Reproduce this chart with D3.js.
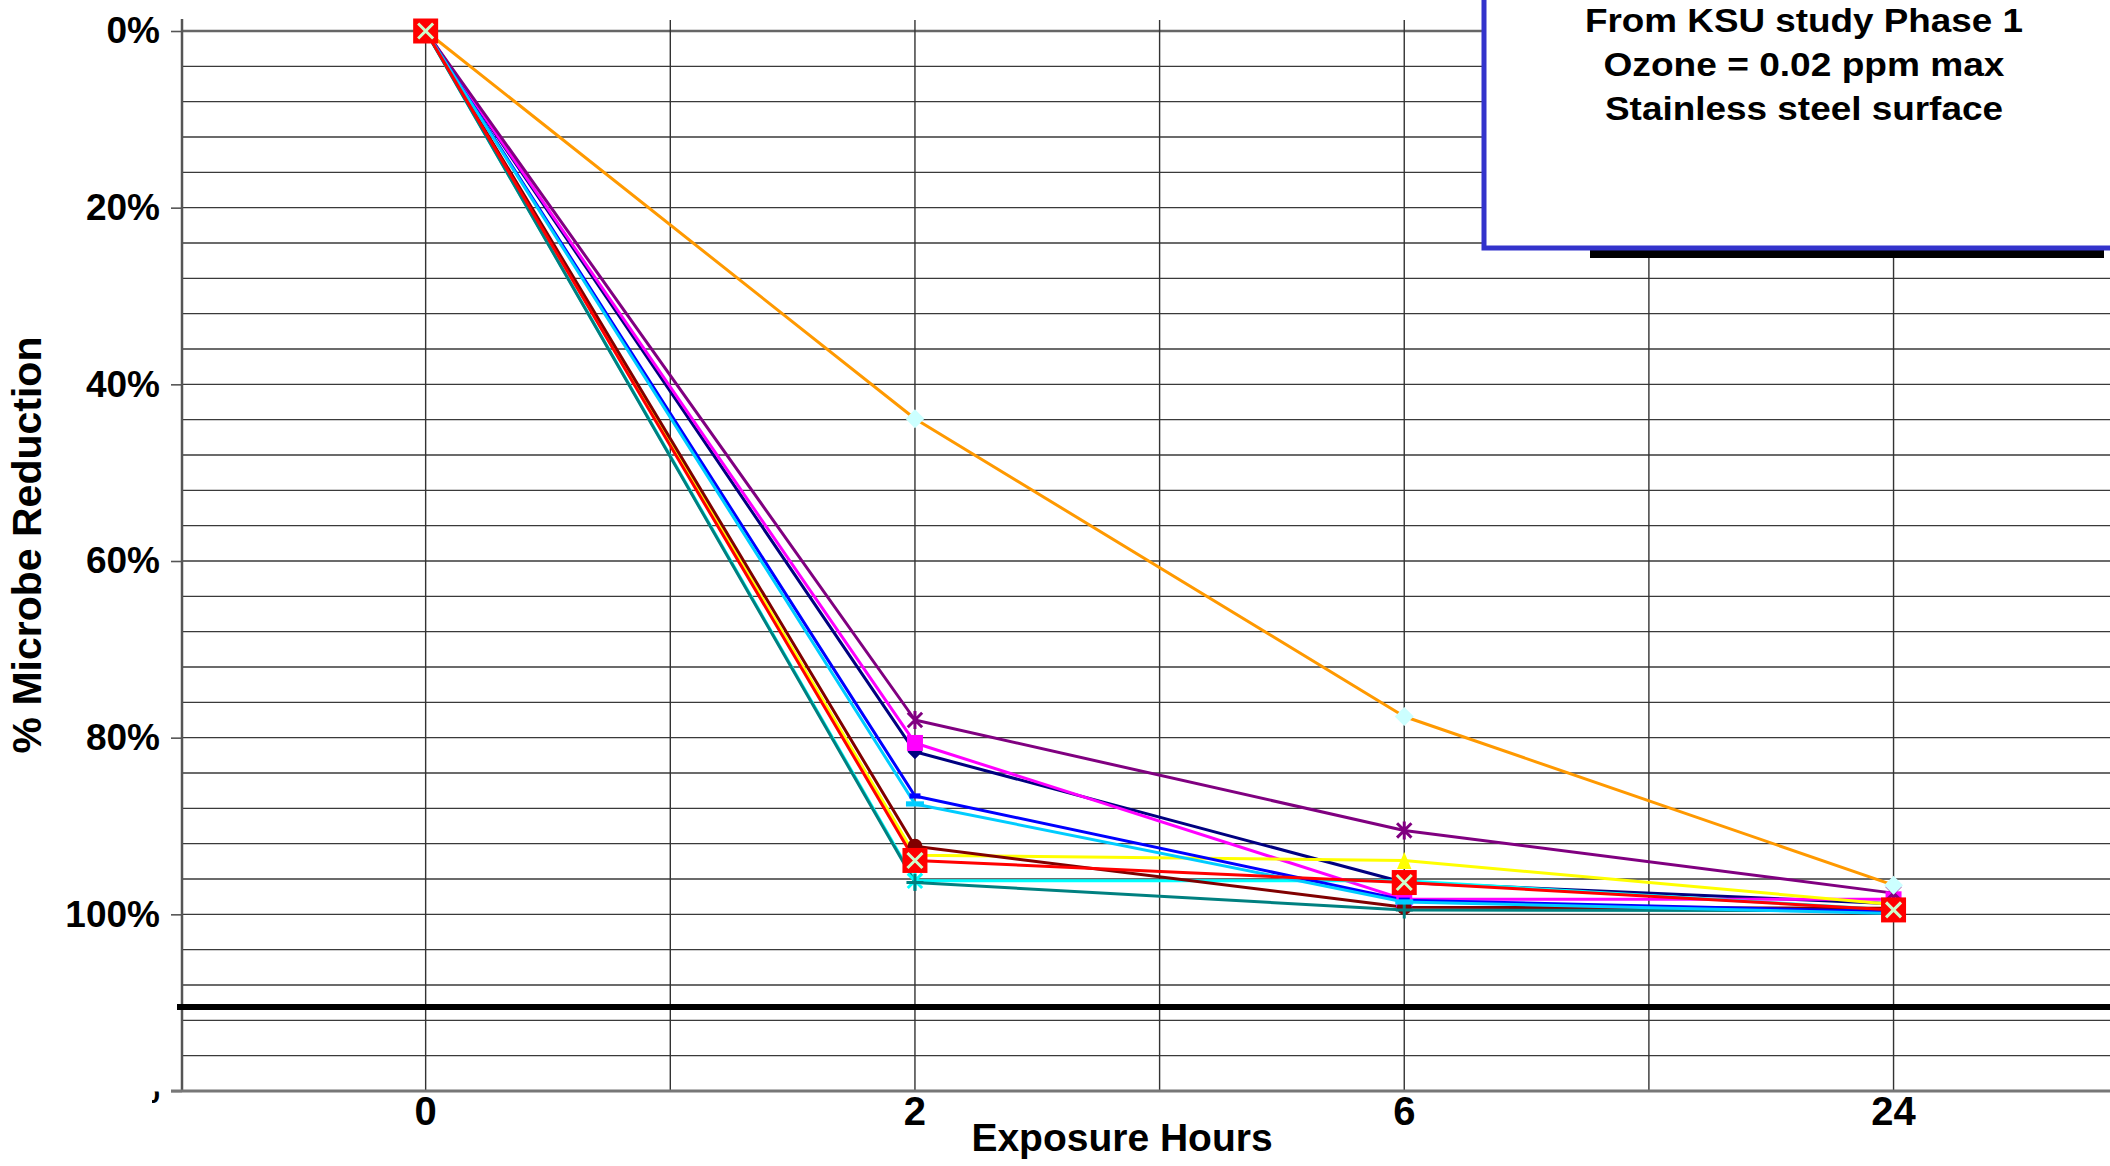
<!DOCTYPE html>
<html><head><meta charset="utf-8">
<script src="https://cdn.jsdelivr.net/npm/d3@7"></script>
<style>
html,body{margin:0;padding:0;background:#fff;overflow:hidden}
svg{display:block}
text{font-family:"Liberation Sans",Arial,sans-serif;font-weight:bold;fill:#000}
</style>
</head><body>
<svg id="chart" width="2110" height="1166"></svg>
<script>
// ---- data ----
const categories = ["0", "2", "6", "24"];
const yTickValues = [0, 20, 40, 60, 80, 100, 120];
const yTickLabels = ["0%", "20%", "40%", "60%", "80%", "100%", "120%"];
const referenceValue = 110.5;
const titleLines = ["From KSU study Phase 1", "Ozone = 0.02 ppm max", "Stainless steel surface"];
const xTitle = "Exposure Hours";
const yTitle = "% Microbe Reduction";

const navyValues    = [0, 81.6, 96.4, 98.8];
const magentaValues = [0, 80.6, 98.3, 98.3];
const yellowValues  = [0, 93.3, 93.9, 98.9];
const cyanValues    = [0, 96.2, 96.2, 99.5];
const purpleValues  = [0, 78.0, 90.5, 97.6];
const darkRedValues = [0, 92.3, 99.2, 99.3];
const tealValues    = [0, 96.4, 99.5, 99.6];
const blueValues    = [0, 86.6, 98.4, 99.7];
const skyValues     = [0, 87.5, 98.6, 99.9];
const orangeValues  = [0, 43.9, 77.6, 96.7];
const redValues     = [0, 93.9, 96.4, 99.5];

// ---- series table (styles attached here) ----
const series = [
  {v: navyValues,    stroke: "#000080", marker: "diamond",  fill: "#000080", size: 15},
  {v: magentaValues, stroke: "#FF00FF", marker: "square",   fill: "#FF00FF", size: 16},
  {v: yellowValues,  stroke: "#FFFF00", marker: "triangle", fill: "#FFFF00", size: 17},
  {v: cyanValues,    stroke: "#00FFFF", marker: "asterisk", fill: "#00FFFF", size: 18},
  {v: purpleValues,  stroke: "#800080", marker: "asterisk", fill: "#800080", size: 18},
  {v: darkRedValues, stroke: "#800000", marker: "circle",   fill: "#800000", size: 15},
  {v: tealValues,    stroke: "#008080", marker: "plus",     fill: "#008080", size: 17},
  {v: blueValues,    stroke: "#0000FF", marker: "dash",     fill: "#0000FF", size: 11},
  {v: skyValues,     stroke: "#00CCFF", marker: "dash",     fill: "#00CCFF", size: 18},
  {v: orangeValues,  stroke: "#FF9900", marker: "diamond",  fill: "#CCFFFF", size: 19},
  {v: redValues,     stroke: "#FF0000", marker: "xsquare",  fill: "#FF0000", size: 25}
];

const W = 2110, H = 1166;
const svg = d3.select("#chart");

const x = d3.scaleBand().domain(categories).range([181, 181 + 4 * 489.3]).padding(0);
const cx = c => x(c) + x.bandwidth() / 2;
const y = d3.scaleLinear().domain([0, 120]).range([31, 1091]);
const plotTop = y(-1.25);

// horizontal gridlines every 4%
const gridVals = d3.range(0, 120, 4);
svg.append("g").selectAll("line").data(gridVals).join("line")
  .attr("x1", 182).attr("x2", W)
  .attr("y1", d => y(d)).attr("y2", d => y(d))
  .attr("stroke", d => d === 0 ? "#666" : "#3a3a3a")
  .attr("stroke-width", d => d === 0 ? 2.5 : 1.4);

// vertical gridlines at band edges and centres
const vVals = [];
categories.forEach(c => { vVals.push(x(c) + x.bandwidth() / 2); vVals.push(x(c) + x.bandwidth()); });
svg.append("g").selectAll("line").data(vVals).join("line")
  .attr("x1", d => d).attr("x2", d => d)
  .attr("y1", plotTop).attr("y2", y(120))
  .attr("stroke", "#333").attr("stroke-width", 1.4);

// y axis
const yAxis = d3.axisLeft(y).tickValues(yTickValues).tickSize(11).tickPadding(11)
  .tickFormat((d, i) => yTickLabels[i]);
const gy = svg.append("g").attr("transform", "translate(182,0)").call(yAxis);
gy.select(".domain").remove();
gy.selectAll(".tick line").attr("stroke", "#555").attr("stroke-width", 1.6);
gy.selectAll(".tick text").attr("font-size", 37).attr("font-family", "Liberation Sans, Arial, sans-serif").attr("font-weight", "bold").attr("fill", "#000");
svg.append("defs").append("clipPath").attr("id", "lastClip")
  .append("rect").attr("x", -30).attr("y", 0).attr("width", 9).attr("height", 20);
gy.selectAll(".tick").filter(d => d === 120).select("text").attr("clip-path", "url(#lastClip)");
svg.append("line").attr("x1", 182).attr("x2", 182).attr("y1", plotTop - 1).attr("y2", y(120))
  .attr("stroke", "#555").attr("stroke-width", 2.5);

// bottom axis
svg.append("line").attr("x1", 171).attr("x2", W).attr("y1", y(120)).attr("y2", y(120))
  .attr("stroke", "#777").attr("stroke-width", 3);
svg.append("g").selectAll("text").data(categories).join("text")
  .attr("x", d => cx(d)).attr("y", 1125)
  .attr("text-anchor", "middle").attr("font-size", 40).text(d => d);

// reference line
svg.append("line").attr("x1", 177).attr("x2", W)
  .attr("y1", y(referenceValue)).attr("y2", y(referenceValue))
  .attr("stroke", "#000").attr("stroke-width", 6);

// axis titles
svg.append("text").attr("x", 1122).attr("y", 1151).attr("text-anchor", "middle")
  .attr("font-size", 39).text(xTitle);
svg.append("text").attr("transform", "translate(41,545) rotate(-90)")
  .attr("text-anchor", "middle").attr("font-size", 41).text(yTitle);

// series lines
const line = d3.line().x((d, i) => cx(categories[i])).y(d => y(d));
svg.append("g").selectAll("path").data(series).join("path")
  .attr("d", s => line(s.v)).attr("fill", "none")
  .attr("stroke", s => s.stroke).attr("stroke-width", 3).attr("stroke-linejoin", "round");

// markers
function markerPath(type, s) {
  const h = s / 2;
  switch (type) {
    case "diamond": return `M0,${-h}L${h},0L0,${h}L${-h},0Z`;
    case "square": return `M${-h},${-h}H${h}V${h}H${-h}Z`;
    case "triangle": return `M0,${-h}L${h * 0.85},${h}L${-h * 0.85},${h}Z`;
    case "asterisk": return `M${-h*0.8},${-h*0.8}L${h*0.8},${h*0.8}M${-h*0.8},${h*0.8}L${h*0.8},${-h*0.8}M0,${-h}L0,${h}`;
    case "plus": return `M${-h},0L${h},0M0,${-h}L0,${h}`;
    case "dash": return `M${-h},-2.6H${h}V2.6H${-h}Z`;
    case "circle": return `M${h},0A${h},${h} 0 1,1 ${-h},0A${h},${h} 0 1,1 ${h},0Z`;
    case "xsquare": return `M${-h},${-h}H${h}V${h}H${-h}Z`;
  }
}
const mg = svg.append("g");
series.forEach(s => {
  const g = mg.append("g");
  const pts = s.v.map((v, i) => ({cx: cx(categories[i]), cy: y(v)}));
  const stroked = s.marker === "asterisk" || s.marker === "plus";
  g.selectAll("path.m").data(pts).join("path").attr("class", "m")
    .attr("transform", p => `translate(${p.cx},${p.cy})`)
    .attr("d", markerPath(s.marker, s.size))
    .attr("fill", stroked ? "none" : s.fill)
    .attr("stroke", stroked ? s.stroke : "none")
    .attr("stroke-width", stroked ? 3 : 0);
  if (s.marker === "xsquare") {
    const k = s.size / 2 - 5;
    g.selectAll("path.x").data(pts).join("path").attr("class", "x")
      .attr("transform", p => `translate(${p.cx},${p.cy})`)
      .attr("d", `M${-k},${-k}L${k},${k}M${-k},${k}L${k},${-k}`)
      .attr("stroke", "#CCFFCC").attr("stroke-width", 3).attr("fill", "none");
  }
});

// text box with shadow
svg.append("rect").attr("x", 1590).attr("y", -20).attr("width", 514).attr("height", 278).attr("fill", "#000");
svg.append("rect").attr("x", 1484).attr("y", -20).attr("width", 700).attr("height", 268)
  .attr("fill", "#fff").attr("stroke", "#3333CC").attr("stroke-width", 5);
const tLen = [438, 401, 398];
svg.append("g").selectAll("text").data(titleLines).join("text")
  .attr("x", 1804).attr("y", (d, i) => 31.5 + i * 44.3)
  .attr("text-anchor", "middle").attr("font-size", 34)
  .attr("textLength", (d, i) => tLen[i]).attr("lengthAdjust", "spacingAndGlyphs")
  .text(d => d);
</script>
</body></html>
